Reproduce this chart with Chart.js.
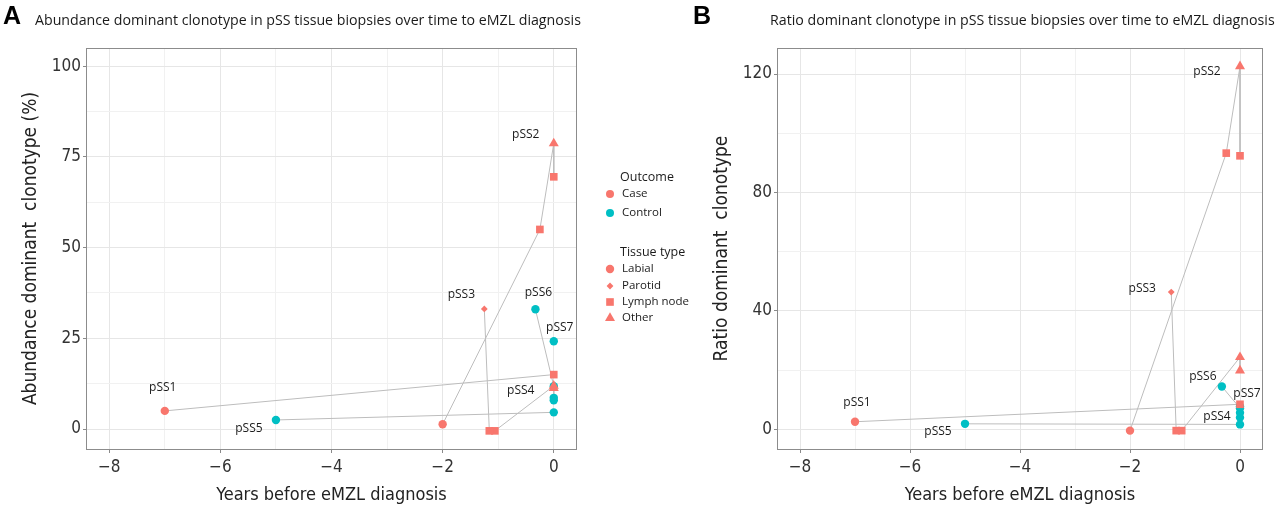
<!DOCTYPE html>
<html>
<head>
<meta charset="utf-8">
<script src="https://cdn.jsdelivr.net/npm/chart.js@4.4.1/dist/chart.umd.min.js"></script>
<style>
  body { margin: 0; background: #fff; width: 1282px; height: 507px; overflow: hidden; position: relative; font-family: "Open Sans", sans-serif; }
  .panel { position: absolute; top: 0; height: 507px; }
  .tag { position: absolute; top: 1px; font: bold 25px "Liberation Sans", Arial, sans-serif; color: #000; }
  .ttl { position: absolute; top: 10px; font-size: 14.2px; color: #1a1a1a; white-space: nowrap; }
</style>
</head>
<body>
<div class="panel" style="left:0;width:690px"><canvas id="chartA"></canvas></div>
<div class="panel" style="left:690px;width:592px"><canvas id="chartB"></canvas></div>
<div class="tag" style="left:3px">A</div>
<div class="ttl" style="left:35px">Abundance dominant clonotype in pSS tissue biopsies over time to eMZL diagnosis</div>
<div class="tag" style="left:693px">B</div>
<div class="ttl" style="left:770px">Ratio dominant clonotype in pSS tissue biopsies over time to eMZL diagnosis</div>
<script>
// patients and their biopsies (one inner array per patient)
const patients = ['pSS1', 'pSS2', 'pSS3', 'pSS4', 'pSS5', 'pSS6', 'pSS7'];
const outcome = ['Case', 'Case', 'Case', 'Case', 'Control', 'Control', 'Control'];
const yearsBefore = [
    [-7, 0],
    [-2, -0.25, 0, 0],
    [-1.25, -1.16],
    [-1.06, 0, 0],
    [-5, 0],
    [-0.33, 0, 0, 0],
    [0]
];
const tissue = [
    ['Labial', 'Lymph node'],
    ['Labial', 'Lymph node', 'Other', 'Lymph node'],
    ['Parotid', 'Lymph node'],
    ['Lymph node', 'Other', 'Other'],
    ['Labial', 'Labial'],
    ['Labial', 'Labial', 'Labial', 'Labial'],
    ['Labial']
];
const abundance = [
    [5.0, 15.0],
    [1.3, 55.0, 78.7, 69.5],
    [33.1, -0.5],
    [-0.5, 11.9, 11.3],
    [2.5, 4.6],
    [33.0, 11.8, 8.6, 7.9],
    [24.2]
];
const ratio = [
    [2.6, 8.5],
    [-0.4, 93.3, 122.6, 92.4],
    [46.4, -0.4],
    [-0.4, 24.4, 19.9],
    [1.9, 1.7],
    [14.5, 7.2, 5.6, 4.0],
    [7.8]
];

// tick labels
const yearTicks = [-8, -6, -4, -2, 0];
const abundanceTicks = [0, 25, 50, 75, 100];
const ratioTicks = [0, 40, 80, 120];

const caseColor = '#F8766D';
const controlColor = '#00BFC4';
const pathColor = '#bdbdbd';
const axisFont = '"Liberation Sans Narrow", "DejaVu Sans Condensed", sans-serif';
const shapeStyle = {
    'Labial': ['circle', 4.2],
    'Parotid': ['rectRot', 3.4],
    'Lymph node': ['rect', 5.4],
    'Other': ['triangle', 5.8]
};

function fmt(v) {
    return v < 0 ? '\u2212' + Math.abs(v) : String(v);
}

function buildDatasets(values) {
    const sets = [];
    patients.forEach((p, i) => {
        const pts = yearsBefore[i].map((x, j) => ({ x: x, y: values[i][j] }));
        // connecting path (drawn under every point)
        sets.push({
            label: p + ' path', data: pts, showLine: true,
            borderColor: pathColor, borderWidth: 1, pointRadius: 0, order: 2
        });
        sets.push({
            label: p, data: pts, showLine: false,
            pointStyle: tissue[i].map(t => shapeStyle[t][0]),
            pointRadius: tissue[i].map(t => shapeStyle[t][1]),
            pointBackgroundColor: outcome[i] === 'Case' ? caseColor : controlColor,
            pointBorderWidth: 0, order: 1
        });
    });
    return sets;
}

// all ticks = major ones + midpoints for the minor grid
function withMinor(major) {
    const all = [];
    major.forEach((v, k) => {
        all.push(v);
        if (k < major.length - 1) all.push((v + major[k + 1]) / 2);
    });
    return all;
}

function gridColor(major) {
    return ctx => ctx.tick && major.includes(ctx.tick.value) ? '#e6e6e6' : '#f1f1f1';
}
function tickColor(major) {
    return ctx => ctx.tick && major.includes(ctx.tick.value) ? '#8a8a8a' : 'rgba(0,0,0,0)';
}

function makeOptions(cfg) {
    return {
        responsive: true,
        maintainAspectRatio: false,
        animation: false,
        events: [],
        layout: { padding: { top: 48, right: cfg.padRight, bottom: 0, left: 0 } },
        plugins: {
            legend: { display: false },
            tooltip: { enabled: false },
            pssLabels: { values: cfg.values, anchors: cfg.anchors },
            pssLegend: { show: cfg.legend }
        },
        scales: {
            x: {
                type: 'linear', min: -8.4, max: 0.4,
                afterBuildTicks: axis => { axis.ticks = withMinor(yearTicks).map(v => ({ value: v })); },
                ticks: {
                    autoSkip: false, maxRotation: 0, padding: 4, color: '#333',
                    font: { family: axisFont, size: 17 },
                    callback: v => yearTicks.includes(v) ? fmt(v) : ''
                },
                grid: { color: gridColor(yearTicks), tickColor: tickColor(yearTicks), tickLength: 4 },
                border: { display: false },
                title: {
                    display: true, text: 'Years before eMZL diagnosis', color: '#222',
                    font: { family: axisFont, size: 18 }, padding: { top: 0, bottom: 1 }
                },
                afterFit: s => { s.height = 58; }
            },
            y: {
                type: 'linear', min: cfg.yMin, max: cfg.yMax,
                afterBuildTicks: axis => { axis.ticks = withMinor(cfg.yTicks).map(v => ({ value: v })); },
                ticks: {
                    autoSkip: false, padding: 2, color: '#333',
                    font: { family: axisFont, size: 17 },
                    callback: v => cfg.yTicks.includes(v) ? fmt(v) : ''
                },
                grid: { color: gridColor(cfg.yTicks), tickColor: tickColor(cfg.yTicks), tickLength: 4 },
                border: { display: false },
                title: {
                    display: true, text: cfg.yTitle, color: '#222',
                    font: { family: axisFont, size: 19 }, padding: { top: cfg.titlePad, bottom: 0 }
                },
                afterFit: s => { s.width = cfg.yWidth; }
            }
        }
    };
}

// patient names next to one of their points, plus the panel border
const pssLabels = {
    id: 'pssLabels',
    afterDatasetsDraw(chart, args, opts) {
        const { ctx, chartArea, scales: { x, y } } = chart;
        ctx.save();
        ctx.font = '12px "Open Sans", sans-serif';
        ctx.fillStyle = '#1a1a1a';
        ctx.textAlign = 'center';
        ctx.textBaseline = 'middle';
        patients.forEach((p, i) => {
            const [j, dx, dy] = opts.anchors[i];
            const px = x.getPixelForValue(yearsBefore[i][j]) + dx;
            const py = y.getPixelForValue(opts.values[i][j]) + dy;
            ctx.fillText(p, px, py);
        });
        ctx.strokeStyle = '#8c8c8c';
        ctx.lineWidth = 1;
        ctx.strokeRect(chartArea.left - 0.5, chartArea.top + 0.5, chartArea.right - chartArea.left + 1, chartArea.bottom - chartArea.top);
        ctx.restore();
    }
};

function shape(ctx, style, x, y, r) {
    ctx.beginPath();
    if (style === 'circle') {
        ctx.arc(x, y, r, 0, Math.PI * 2);
    } else if (style === 'rect') {
        const s = r * Math.SQRT1_2;
        ctx.rect(x - s, y - s, 2 * s, 2 * s);
    } else if (style === 'rectRot') {
        ctx.moveTo(x, y - r); ctx.lineTo(x + r, y); ctx.lineTo(x, y + r); ctx.lineTo(x - r, y);
    } else {
        ctx.moveTo(x, y - r);
        ctx.lineTo(x + r * Math.sin(Math.PI * 2 / 3), y - r * Math.cos(Math.PI * 2 / 3));
        ctx.lineTo(x + r * Math.sin(Math.PI * 4 / 3), y - r * Math.cos(Math.PI * 4 / 3));
    }
    ctx.closePath();
    ctx.fill();
}

const pssLegend = {
    id: 'pssLegend',
    afterDraw(chart, args, opts) {
        if (!opts.show) return;
        const ctx = chart.ctx;
        ctx.save();
        ctx.textBaseline = 'middle';
        ctx.fillStyle = '#1a1a1a';
        ctx.font = '12.5px "Open Sans", sans-serif';
        ctx.fillText('Outcome', 620, 177);
        ctx.fillText('Tissue type', 620, 252);
        ctx.font = '11.5px "Open Sans", sans-serif';
        const outRows = [['Case', caseColor, 194], ['Control', controlColor, 213]];
        outRows.forEach(([name, col, yy]) => {
            ctx.fillStyle = col; shape(ctx, 'circle', 610, yy, 4);
            ctx.fillStyle = '#1a1a1a'; ctx.fillText(name, 622, yy);
        });
        const tisRows = [['Labial', 269], ['Parotid', 286], ['Lymph node', 302], ['Other', 318]];
        tisRows.forEach(([name, yy]) => {
            const st = shapeStyle[name];
            ctx.fillStyle = caseColor; shape(ctx, st[0], 610, yy, st[1]);
            ctx.fillStyle = '#1a1a1a'; ctx.fillText(name, 622, yy);
        });
        ctx.restore();
    }
};

new Chart(document.getElementById('chartA'), {
    type: 'scatter',
    data: { datasets: buildDatasets(abundance) },
    options: makeOptions({
        values: abundance, yMin: -5.5, yMax: 105, yTicks: abundanceTicks,
        yTitle: 'Abundance dominant  clonotype (%)', yWidth: 87, titlePad: 20, padRight: 114, legend: true,
        anchors: [[0, -2, -23], [2, -28, -9], [0, -23, -14], [1, -33, 5], [0, -27, 9], [0, 3, -17], [0, 6, -14]]
    }),
    plugins: [pssLabels, pssLegend]
});

new Chart(document.getElementById('chartB'), {
    type: 'scatter',
    data: { datasets: buildDatasets(ratio) },
    options: makeOptions({
        values: ratio, yMin: -6.6, yMax: 128.8, yTicks: ratioTicks,
        yTitle: 'Ratio dominant  clonotype', yWidth: 88, titlePad: 21, padRight: 20, legend: false,
        anchors: [[0, 2, -19], [2, -33, 5], [0, -29, -3], [2, -23, 46], [0, -27, 8], [0, -19, -10], [0, 7, -13]]
    }),
    plugins: [pssLabels, pssLegend]
});
</script>
</body>
</html>
